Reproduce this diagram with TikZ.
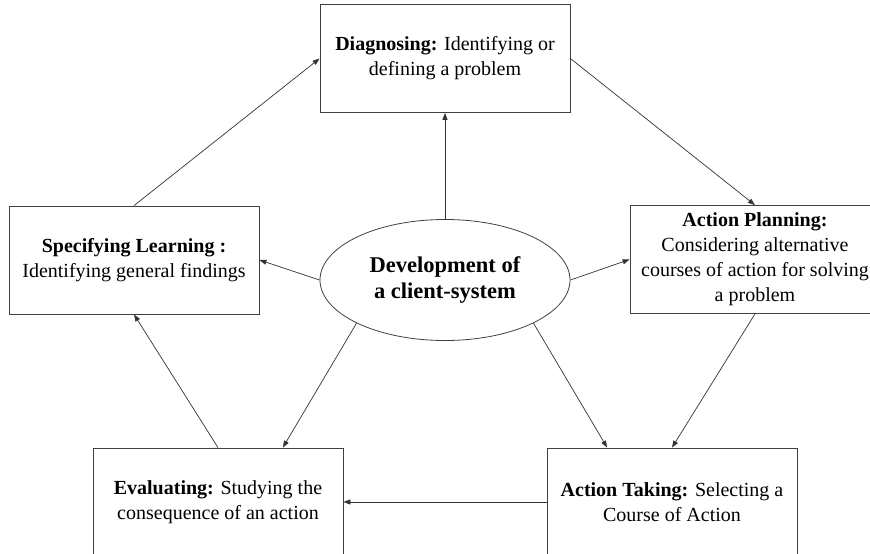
\documentclass[tikz,border=0pt]{standalone}
\usepackage{fontspec}
\setmainfont{Liberation Serif}
\usetikzlibrary{arrows.meta,shapes.geometric}

\begin{document}
\begin{tikzpicture}[x=1pt,y=-1pt,
  stage/.style={draw=black!75, line width=0.8pt, minimum width=250pt, minimum height=108pt,
    inner sep=0pt, align=center, font=\fontsize{20}{25}\selectfont},
  core/.style={draw=black!75, line width=0.8pt, ellipse, minimum width=250pt, minimum height=121pt,
    inner sep=0pt, align=center, font=\fontsize{22.5}{26}\selectfont\bfseries},
  link/.style={-{Triangle[length=7pt,width=5pt]}, draw=black!80, line width=0.7pt}]
\clip (0,0) rectangle (870,554);

% the five stages round the centre
\node[stage] (diag) at (445,58.5) {\textbf{Diagnosing:} Identifying or\\defining a problem};
\node[stage] (plan) at (755,259.5) {\textbf{Action Planning:}\\Considering alternative\\courses of action for solving\\a problem};
\node[stage] (take) at (672,502) {\textbf{Action Taking:} Selecting a\\Course of Action};
\node[stage] (eval) at (218,502) {\textbf{Evaluating:} Studying the\\consequence of an action};
\node[stage] (learn) at (134,260) {\textbf{Specifying Learning :}\\Identifying general findings};
\node[core] (dev) at (445,280) {Development of\\a client-system};

% cycle
\draw[link] (diag.east) -- (plan.north);
\draw[link] (plan.south) -- (take.north);
\draw[link] (take.west) -- (eval.east);
\draw[link] (eval.north) -- (learn.south);
\draw[link] (learn.north) -- (diag.west);

% from the centre
\draw[link] (dev.north) -- (diag.south);
\draw[link] (dev.east) -- (plan.west);
\draw[link] (dev.-26) -- (take.140);
\draw[link] (dev.206) -- (eval.40);
\draw[link] (dev.west) -- (learn.east);
\end{tikzpicture}
\end{document}
